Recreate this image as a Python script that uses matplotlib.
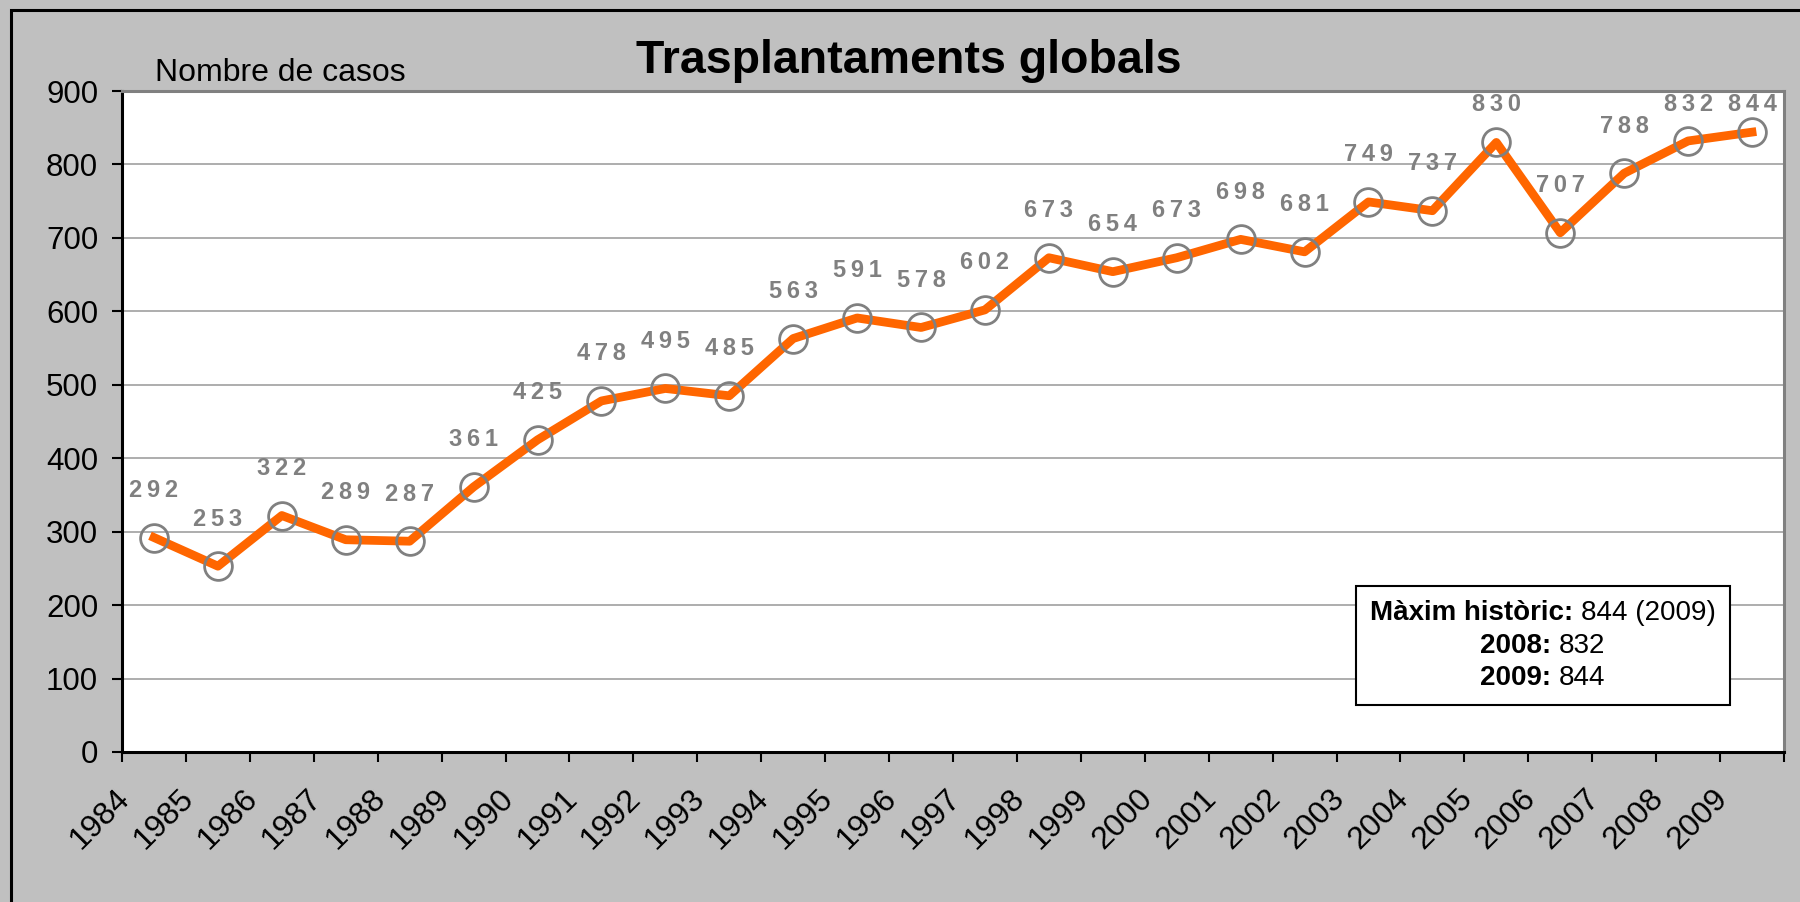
import matplotlib
matplotlib.use("Agg")
import matplotlib.pyplot as plt
from matplotlib.patches import Rectangle
from matplotlib.offsetbox import TextArea, HPacker, VPacker, AnnotationBbox

plt.rcParams['font.family'] = ['Liberation Sans', 'DejaVu Sans']

# --- data -------------------------------------------------------------
years = [str(y) for y in range(1984, 2010)]
cases = [292, 253, 322, 289, 287, 361, 425, 478, 495, 485, 563, 591, 578,
         602, 673, 654, 673, 698, 681, 749, 737, 830, 707, 788, 832, 844]

box_bold = ["Màxim històric:", "2008:", "2009:"]
box_norm = ["844 (2009)", "832", "844"]

# --- figure -----------------------------------------------------------
fig = plt.figure(figsize=(18, 9.02), dpi=100, facecolor='#C0C0C0')
ax = fig.add_axes([0.0678, 0.1663, 0.9233, 0.7328])
ax.set_facecolor('white')

x = list(range(len(cases)))
ax.plot(x, cases, color='#FF6600', lw=6.3, zorder=3)
ax.plot(x, cases, ls='none', marker='o', ms=20, mfc='none', mec='#808080',
        mew=2.0, zorder=4)

for xi, v in zip(x, cases):
    ax.text(xi, min(v + 64, 882), '\u2009'.join(str(v)), ha='center',
            va='center', fontsize=17, fontweight='bold', color='#808080',
            zorder=5)

ax.set_xlim(-0.5, len(cases) - 0.5)
ax.set_ylim(0, 900)
ax.set_yticks(range(0, 901, 100))
ax.yaxis.grid(True, color='#A0A0A0', lw=1.2)
ax.set_axisbelow(True)

# boundary ticks and shifted labels (Excel style)
ax.set_xticks([i - 0.5 for i in range(len(cases) + 1)], minor=True)
ax.set_xticks([i - 0.45 for i in x])
ax.set_xticklabels(years)
ax.tick_params(axis='x', which='major', length=0, pad=30, labelsize=23)
ax.tick_params(axis='x', which='minor', length=7.2, width=1.5, direction='out')
ax.tick_params(axis='y', length=7.2, width=1.5, pad=10, labelsize=22.5)
for lab in ax.get_xticklabels():
    lab.set_rotation(45)
    lab.set_ha('right')
    lab.set_va('center')
    lab.set_rotation_mode('anchor')

for s in ['left', 'bottom']:
    ax.spines[s].set_color('black')
    ax.spines[s].set_linewidth(2.2)
for s in ['top', 'right']:
    ax.spines[s].set_color('#808080')
    ax.spines[s].set_linewidth(2.2)

fig.text(909 / 1800, 1 - 61 / 902, 'Trasplantaments globals', ha='center',
         va='center', fontsize=33.5, fontweight='bold')
fig.text(155 / 1800, 1 - 73 / 902, 'Nombre de casos', ha='left', va='center',
         fontsize=23)

# info box
rows = []
for b, n in zip(box_bold, box_norm):
    rows.append(HPacker(children=[
        TextArea(b, textprops=dict(fontsize=20, fontweight='bold')),
        TextArea(n, textprops=dict(fontsize=20))], sep=5.5, pad=0,
        align='baseline'))
vp = VPacker(children=rows, align='center', sep=4.5, pad=10)
ab = AnnotationBbox(vp, (0.855, 0.161), xycoords='axes fraction', pad=0,
                    frameon=True, zorder=6,
                    bboxprops=dict(edgecolor='black', facecolor='white',
                                   lw=1.5, boxstyle='square,pad=0'))
ax.add_artist(ab)

# outer border
fig.add_artist(Rectangle((11 / 1800, -0.1), 1.2, 1 - 10 / 902 + 0.1,
                         transform=fig.transFigure, fill=False,
                         edgecolor='black', lw=2.2, clip_on=False))

fig.savefig('out.png', dpi=100, facecolor=fig.get_facecolor())
